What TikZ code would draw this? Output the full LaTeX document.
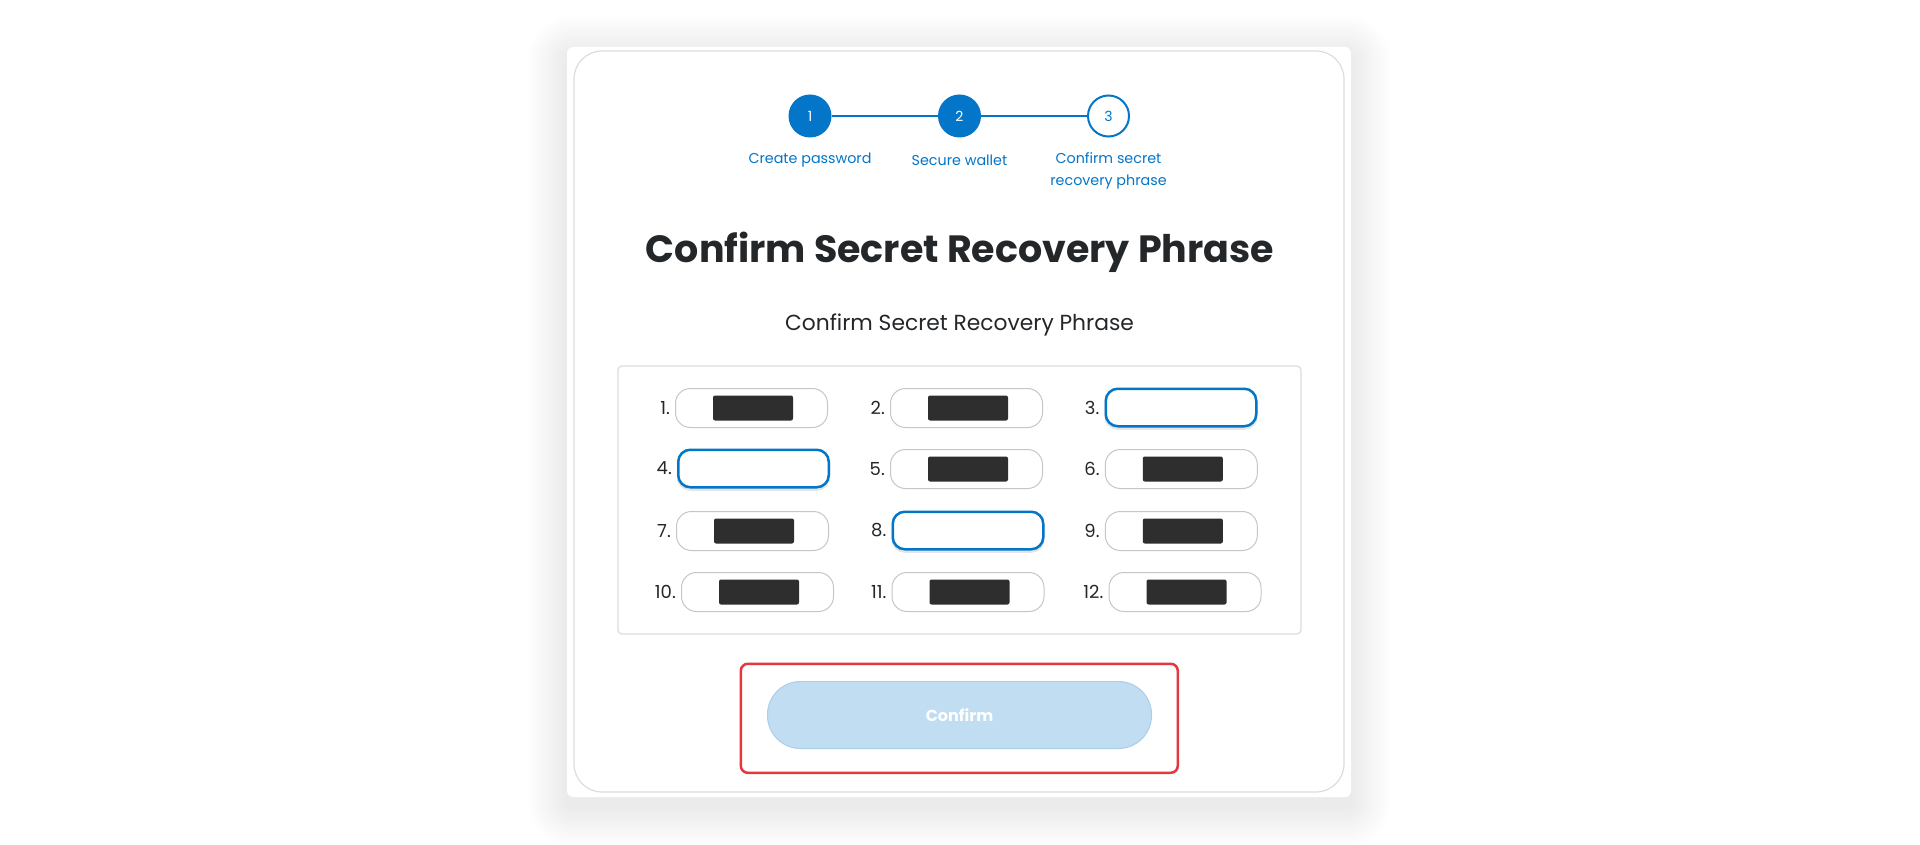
\documentclass[tikz,border=0pt]{standalone}
\usepackage{fontspec}
\setmainfont{Poppins}
\definecolor{mmblue}{HTML}{0376C9}
\definecolor{mmtext}{HTML}{24272A}
\definecolor{fieldgray}{HTML}{C3C7CB}
\definecolor{cardgray}{HTML}{DADDE0}
\definecolor{maskgray}{HTML}{2E2E2E}
\definecolor{btnfill}{HTML}{C0DDF2}
\definecolor{btnedge}{HTML}{AACEEC}
\definecolor{hlred}{HTML}{E2383E}
\tikzset{
  stepdone/.style={circle, fill=mmblue, minimum size=43pt, inner sep=0pt, text=white, font=\fontsize{14}{14}\selectfont},
  stepopen/.style={circle, draw=mmblue, line width=2pt, fill=white, minimum size=41pt, inner sep=0pt, text=mmblue, font=\fontsize{14}{14}\selectfont},
  steplink/.style={draw=mmblue, line width=2pt},
  steplabel/.style={text=mmblue, font=\fontsize{14.3}{22}\selectfont, inner sep=0pt, align=center},
  titletext/.style={text=mmtext, font=\fontsize{38}{42}\selectfont\bfseries, inner sep=0pt, anchor=base},
  subtext/.style={text=mmtext, font=\fontsize{21.8}{24}\selectfont, inner sep=0pt, anchor=base},
  wordfield/.style={draw=fieldgray, line width=1pt, fill=white, rounded corners=15pt, minimum width=152pt, minimum height=39pt, inner sep=0pt},
  focusfield/.style={draw=mmblue, line width=2.5pt, fill=white, rounded corners=12pt, minimum width=150.5pt, minimum height=37.5pt, inner sep=0pt},
  focusglow/.style={draw=black, draw opacity=0.10, line width=3pt, rounded corners=12pt, minimum width=150.5pt, minimum height=37.5pt, inner sep=0pt},
  numlabel/.style={text=mmtext, font=\fontsize{18}{18}\selectfont, inner sep=0pt, anchor=east},
  mask/.style={fill=maskgray, minimum width=80pt, minimum height=25pt, rounded corners=2pt, inner sep=0pt},
  confirmbtn/.style={fill=btnfill, draw=btnedge, line width=1pt, rounded corners=33pt, minimum width=384pt, minimum height=67pt, inner sep=0pt, text=white, font=\fontsize{16}{16}\selectfont\bfseries},
  hlbox/.style={draw=hlred, line width=2.5pt, rounded corners=7pt, minimum width=437pt, minimum height=109pt, inner sep=0pt},
}
\begin{document}
\begin{tikzpicture}[x=1pt,y=-1pt]
\useasboundingbox[fill=white] (0,0) rectangle (1920,845);
% card shadow
\foreach \k in {2,4,...,40} {
  \pgfmathsetmacro{\rc}{6+\k}
  \fill[black, opacity=0.004, rounded corners=\rc pt] (567-\k,55-\k) rectangle (1351+\k,807+\k);
}
% card
\path[fill=white, rounded corners=6pt] (567,47) rectangle (1351,797);
\draw[draw=cardgray, line width=1.2pt, rounded corners=28pt] (574,51) rectangle (1344,792);
% steps
\node[stepdone] (s1) at (810,116) {1};
\node[stepdone] (s2) at (959.5,116) {2};
\node[stepopen] (s3) at (1108.5,116) {3};
\draw[steplink] (s1) -- (s2);
\draw[steplink] (s2) -- (s3);
\node[steplabel] (l1) at (810,160) {Create password};
\node[steplabel] (l2) at (959.5,160) {Secure wallet};
\node[steplabel] (l3) at (1108.5,171) {Confirm secret\\recovery phrase};
% titles
\node[titletext] (title) at (960,262) {Confirm Secret Recovery Phrase};
\node[subtext] (sub) at (959.5,330) {Confirm Secret Recovery Phrase};
% frame
\draw[draw=cardgray, line width=1.2pt, rounded corners=4pt] (618,366) rectangle (1301,634);
% focus glows
\node[focusglow] (g3) at (1181,409.5) {};
\node[focusglow] (g4) at (753.5,470.5) {};
\node[focusglow] (g8) at (968,532.5) {};
% fields
\node[wordfield] (f1) at (751.5,408) {};
\node[wordfield] (f2) at (966.5,408) {};
\node[focusfield] (f3) at (1181,407.5) {};
\node[wordfield] (f5) at (966.5,469) {};
\node[focusfield] (f4) at (753.5,468.5) {};
\node[wordfield] (f6) at (1181.3,469) {};
\node[wordfield] (f7) at (752.5,531) {};
\node[focusfield] (f8) at (968,530.5) {};
\node[wordfield] (f9) at (1181.3,531) {};
\node[wordfield] (f10) at (757.5,592) {};
\node[wordfield] (f11) at (968,592) {};
\node[wordfield] (f12) at (1185,592) {};
\foreach \i in {1,...,12} {
  \node[numlabel] (n\i) at ([xshift=-5pt]f\i.west) {\i.};
}
\foreach \i in {1,2,5,6,7,9,10,11,12} {
  \node[mask] (m\i) at ([xshift=1.5pt]f\i.center) {};
}
% button
\node[confirmbtn] (confirm) at (959.5,715) {Confirm};
\node[hlbox] (hl) at (959.3,718.3) {};
\end{tikzpicture}
\end{document}
